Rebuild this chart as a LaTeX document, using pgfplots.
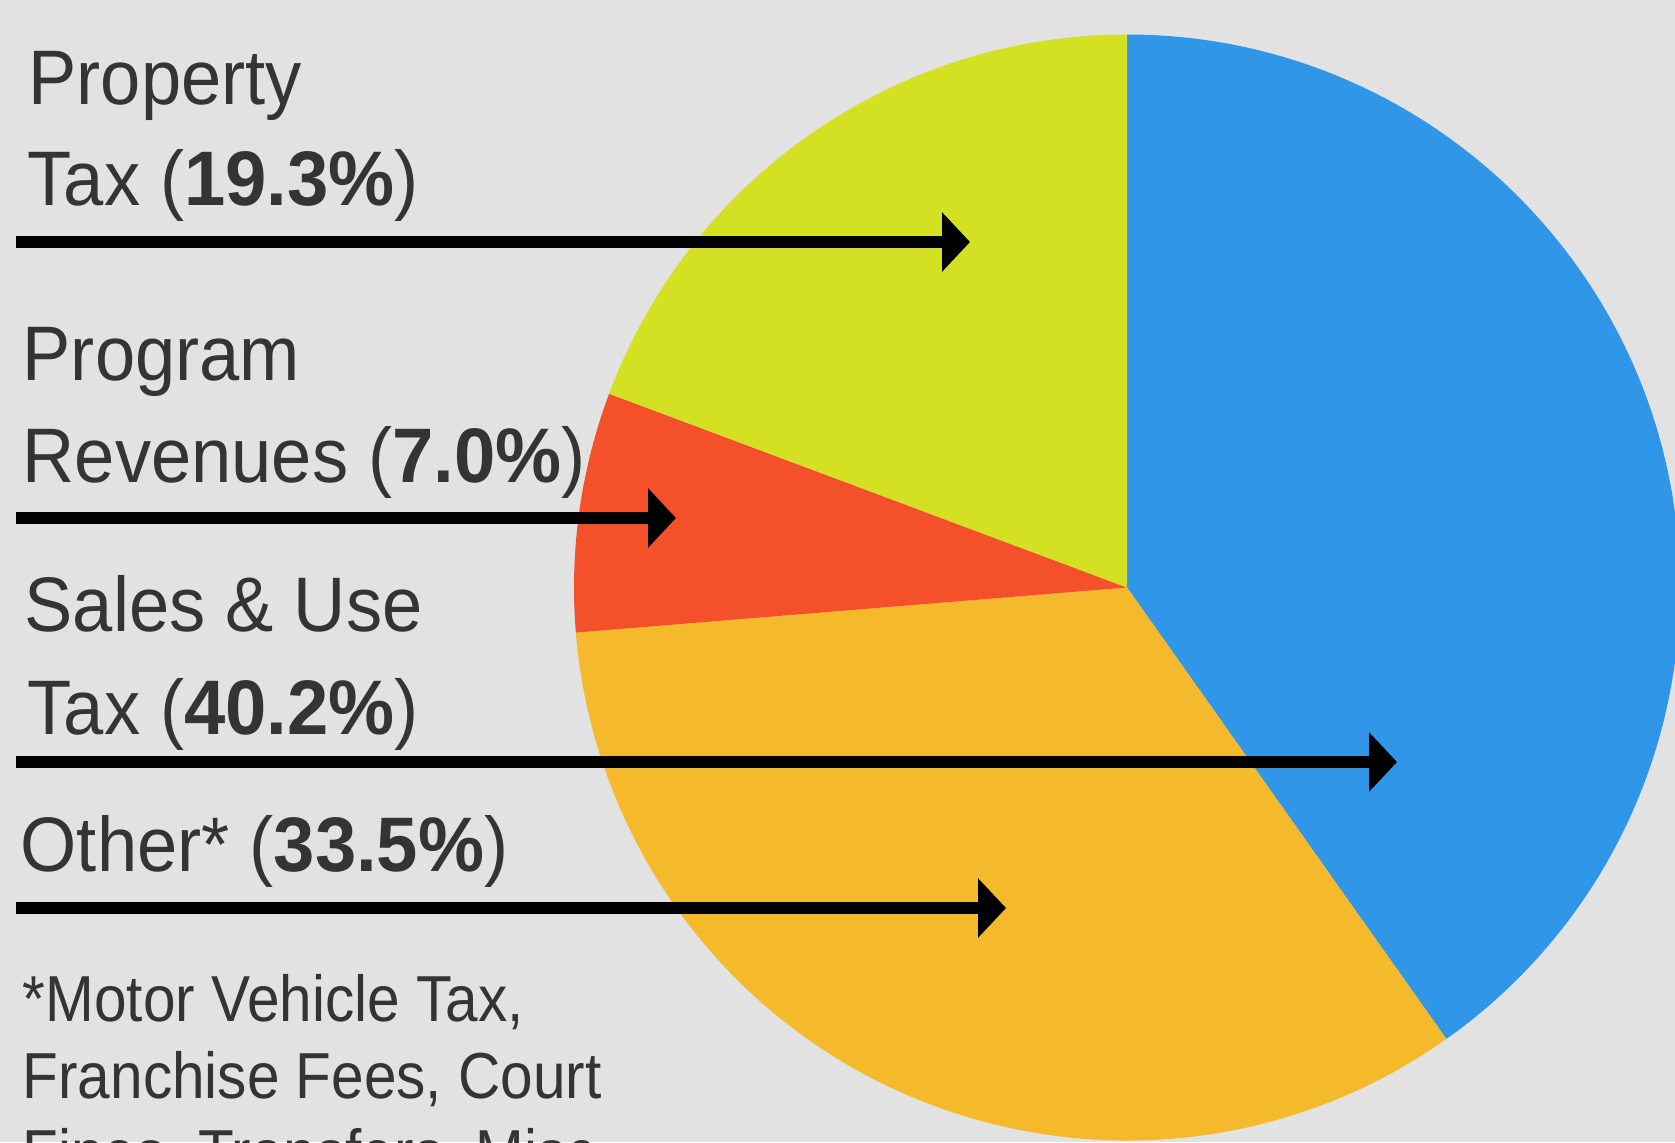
\documentclass[border=0pt]{standalone}
\usepackage{fontspec}
\setmainfont{Liberation Sans}[FakeStretch=0.935, BoldFeatures={FakeStretch=0.96}]
\newfontfamily\notefont{Liberation Sans}[FakeStretch=0.90]
\usepackage{pgfplots}
\usepackage{pgfplotstable}
\pgfplotsset{compat=1.18}
\usetikzlibrary{arrows.meta}
\definecolor{bgc}{RGB}{226,226,226}
\definecolor{cblue}{RGB}{48,150,232}
\definecolor{corange}{RGB}{245,186,44}
\definecolor{cred}{RGB}{244,80,42}
\definecolor{clime}{RGB}{212,224,34}
\definecolor{txt}{RGB}{52,52,52}

\pgfplotstableread{
name value
Sales 40.2
Other 33.5
Program 7.0
Property 19.3
}\pietable

\begin{document}
\begin{tikzpicture}
\pgfplotstablegetelem{0}{value}\of\pietable \let\vA\pgfplotsretval
\pgfplotstablegetelem{1}{value}\of\pietable \let\vB\pgfplotsretval
\pgfplotstablegetelem{2}{value}\of\pietable \let\vC\pgfplotsretval
\pgfplotstablegetelem{3}{value}\of\pietable \let\vD\pgfplotsretval
\pgfmathsetmacro\aA{90}
\pgfmathsetmacro\aB{\aA-3.6*\vA}
\pgfmathsetmacro\aC{\aB-3.6*\vB}
\pgfmathsetmacro\aD{\aC-3.6*\vC}
\pgfmathsetmacro\aE{\aD-3.6*\vD}
\def\R{5.53cm}
\begin{axis}[scale only axis, width=16.75cm, height=11.42cm,
  xmin=0, xmax=1675, ymin=0, ymax=1142, y dir=reverse,
  hide axis, clip=false]
\fill[bgc] (axis cs:0,0) rectangle (axis cs:1675,1142);
\coordinate (sw) at (axis cs:0,1142);
\coordinate (ne) at (axis cs:1675,0);
\fill[cblue] (axis cs:1127,587.5) -- ++(\aA:\R) arc[start angle=\aA, end angle=\aB, radius=\R] -- cycle;
\fill[corange] (axis cs:1127,587.5) -- ++(\aB:\R) arc[start angle=\aB, end angle=\aC, radius=\R] -- cycle;
\fill[cred] (axis cs:1127,587.5) -- ++(\aC:\R) arc[start angle=\aC, end angle=\aD, radius=\R] -- cycle;
\fill[clime] (axis cs:1127,587.5) -- ++(\aD:\R) arc[start angle=\aD, end angle=\aE, radius=\R] -- cycle;
\draw[black, line width=1.2mm, -{Triangle[length=2.8mm,width=5.8mm]}] (axis cs:16,242) -- (axis cs:970,242);
\draw[black, line width=1.2mm, -{Triangle[length=2.8mm,width=5.8mm]}] (axis cs:16,518) -- (axis cs:676,518);
\draw[black, line width=1.2mm, -{Triangle[length=2.8mm,width=5.8mm]}] (axis cs:16,762) -- (axis cs:1397,762);
\draw[black, line width=1.2mm, -{Triangle[length=2.8mm,width=5.8mm]}] (axis cs:16,908) -- (axis cs:1006,908);
\begin{scope}[every node/.style={anchor=base west, inner sep=0pt, text=txt, font=\fontsize{22pt}{26pt}\selectfont}]
\node at (axis cs:28,104) {Property};
\node at (axis cs:27,205) {Tax (\textbf{19.3\%})};
\node at (axis cs:22,380) {Program};
\node at (axis cs:22,482) {Revenues (\textbf{7.0\%})};
\node at (axis cs:24,631) {Sales \& Use};
\node at (axis cs:27,734) {Tax (\textbf{40.2\%})};
\node at (axis cs:20,871) {Other* (\textbf{33.5\%})};
\end{scope}
\begin{scope}[every node/.style={anchor=base west, inner sep=0pt, text=txt, font=\notefont\fontsize{18.5pt}{22pt}\selectfont}]
\node at (axis cs:22,1021) {*Motor Vehicle Tax,};
\node at (axis cs:22,1098) {Franchise Fees, Court};
\node at (axis cs:22,1175) {Fines, Transfers, Misc.};
\end{scope}
\end{axis}
\pgfresetboundingbox
\useasboundingbox (sw) rectangle (ne);
\end{tikzpicture}
\end{document}
